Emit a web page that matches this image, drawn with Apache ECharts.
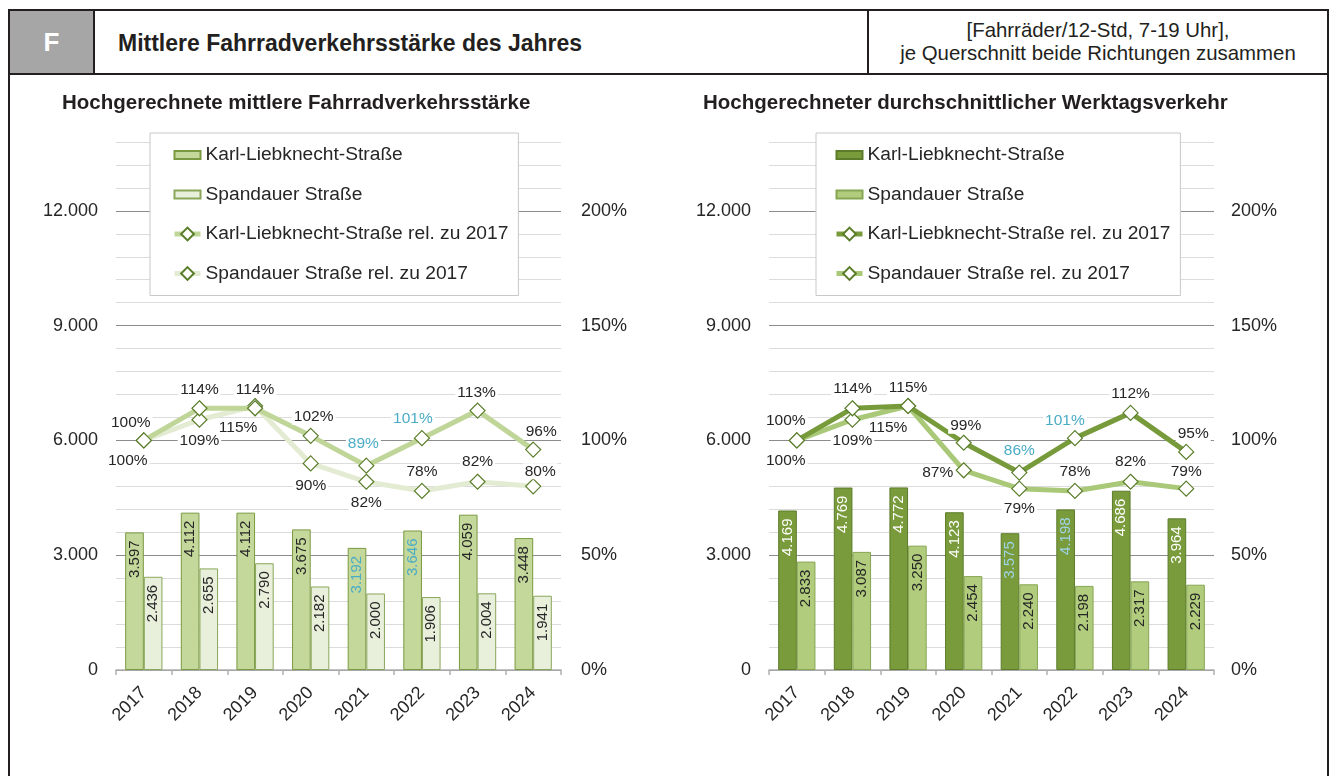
<!DOCTYPE html>
<html>
<head>
<meta charset="utf-8" />
<script src="https://cdn.jsdelivr.net/npm/echarts@6.0.0/dist/echarts.min.js"></script>
<style>
    body {
        margin: 0px;
        overflow: hidden;
        background: #fff;
        font-family: 'Liberation Sans', Arial, sans-serif;
    }
    .frame {
        position: absolute;
        left: 8px;
        top: 9px;
        width: 1317px;
        height: 800px;
        border: 2px solid #231f20;
    }
    .head {
        position: absolute;
        left: 0px;
        top: 0px;
        right: 0px;
        height: 62px;
        border-bottom: 2px solid #231f20;
    }
    .letter {
        position: absolute;
        left: 0px;
        top: 0px;
        width: 83px;
        height: 62px;
        background: #a6a6a6;
        border-right: 2px solid #231f20;
        color: #fff;
        font-weight: bold;
        font-size: 26px;
        line-height: 62px;
        text-align: center;
    }
    .title {
        position: absolute;
        left: 108px;
        top: 0px;
        line-height: 64px;
        font-weight: bold;
        font-size: 23px;
        color: #231f20;
    }
    .unit {
        position: absolute;
        left: 857px;
        top: 0px;
        right: 0px;
        height: 62px;
        border-left: 2px solid #231f20;
        text-align: center;
        font-size: 20.4px;
        line-height: 23px;
        padding-top: 8px;
        box-sizing: border-box;
        color: #231f20;
    }
    .chart {
        position: absolute;
        left: 0px;
        top: 0px;
        width: 1331px;
        height: 776px;
    }
</style>
</head>
<body>
    <div class="frame">
        <div class="head">
            <div class="letter">F</div>
            <div class="title">Mittlere Fahrradverkehrsstärke des Jahres</div>
            <div class="unit">[Fahrräder/12-Std, 7-19 Uhr],<br>je Querschnitt beide Richtungen zusammen</div>
        </div>
    </div>
    <div class="chart" id="chartLeft"></div>
    <div class="chart" id="chartRight"></div>

<script type="text/javascript">
    var years = ['2017', '2018', '2019', '2020', '2021', '2022', '2023', '2024'];

    // linke Grafik: mittlere Fahrradverkehrsstärke
    var leftKarl = [3597, 4112, 4112, 3675, 3192, 3646, 4059, 3448];
    var leftSpandau = [2436, 2655, 2790, 2182, 2000, 1906, 2004, 1941];
    var leftKarlRel = [100, 114, 114, 102, 89, 101, 113, 96];
    var leftSpandauRel = [100, 109, 115, 90, 82, 78, 82, 80];

    // rechte Grafik: durchschnittlicher Werktagsverkehr
    var rightKarl = [4169, 4769, 4772, 4123, 3575, 4198, 4686, 3964];
    var rightSpandau = [2833, 3087, 3250, 2454, 2240, 2198, 2317, 2229];
    var rightKarlRel = [100, 114, 115, 99, 86, 101, 112, 95];
    var rightSpandauRel = [100, 109, 115, 87, 79, 78, 82, 79];

    // Beschriftungsversatz der Prozentwerte [dx, dy] relativ zum Marker
    var leftKarlOff = [[-13, -18], [0, -19], [0, -19], [3, -19], [-3, -22], [-9, -19], [-1, -18], [8, -18]];
    var leftSpandauOff = [[-16, 20], [0, 21], [-17, 22], [0, 22], [0, 21], [0, -19], [0, -20], [7, -15]];
    var rightKarlOff = [[-11, -20], [0, -20], [0, -18], [2, -17], [0, -22], [-10, -17], [0, -19], [7, -18]];
    var rightSpandauOff = [[-11, 20], [0, 21], [-20, 22], [-26, 2], [0, 20], [0, -19], [0, -20], [0, -17]];

    var FONT = "'Liberation Sans', Arial, sans-serif";
    var TEXT = '#262626';
    var BLUE = '#4bacc6';
    var BAR_ICON = 'path://M0,0L26,0L26,8L0,8Z';

    function fmt(v) {
        return String(v).replace(/\B(?=(\d{3})+(?!\d))/g, '.');
    }

    function barData(values, blueIdx, color, blue) {
        return values.map(function (v, i) {
            return {
                value: v,
                label: { color: blueIdx.indexOf(i) >= 0 ? blue : color }
            };
        });
    }

    function lineData(values, offs, blueIdx) {
        return values.map(function (v, i) {
            return {
                value: v,
                label: {
                    offset: offs[i],
                    color: blueIdx.indexOf(i) >= 0 ? BLUE : TEXT
                }
            };
        });
    }

    function makeOption(c) {
        var barLabel = {
            show: true,
            position: 'insideTop',
            rotate: 90,
            align: 'right',
            verticalAlign: 'middle',
            distance: 8,
            fontSize: 15,
            fontFamily: FONT,
            formatter: function (p) { return fmt(p.value); }
        };
        var lineLabel = {
            show: true,
            position: 'inside',
            fontSize: 15.5,
            fontFamily: FONT,
            backgroundColor: '#fff',
            padding: [0, 2],
            formatter: function (p) { return p.value + '%'; }
        };
        var marker = {
            color: '#fff',
            borderColor: '#5a7d2a',
            borderWidth: 1.2
        };
        return {
            animation: false,
            title: {
                text: c.title,
                left: c.titleLeft,
                top: 93,
                padding: 0,
                textStyle: { fontSize: 20.5, fontWeight: 'bold', color: '#231f20', fontFamily: FONT }
            },
            legend: {
                orient: 'vertical',
                left: c.legendLeft,
                top: 133,
                padding: [11, 10, 11, c.legendPad],
                itemWidth: 26,
                itemHeight: 16,
                itemGap: 17.5,
                itemTextGap: 7,
                backgroundColor: '#fff',
                borderColor: '#c8c8c8',
                borderWidth: 1,
                textStyle: { fontSize: 19.2, color: TEXT, fontFamily: FONT, lineHeight: 22 },
                data: [
                    { name: 'Karl-Liebknecht-Straße', icon: BAR_ICON },
                    { name: 'Spandauer Straße', icon: BAR_ICON },
                    { name: 'Karl-Liebknecht-Straße rel. zu 2017', lineStyle: { width: 5 } },
                    { name: 'Spandauer Straße rel. zu 2017', lineStyle: { width: 5 } }
                ]
            },
            grid: {
                left: c.gridLeft,
                width: 445,
                top: 142,
                bottom: 106
            },
            xAxis: {
                type: 'category',
                data: years,
                boundaryGap: true,
                axisLine: { lineStyle: { color: '#b0b0b0', width: 1.5 } },
                axisTick: { show: true, length: 5, lineStyle: { color: '#b0b0b0', width: 1.5 } },
                axisLabel: { rotate: 45, fontSize: 18, color: TEXT, fontFamily: FONT, margin: 20 }
            },
            yAxis: [{
                type: 'value',
                min: 0,
                max: 13800,
                interval: 600,
                axisLine: { show: false },
                axisTick: { show: false },
                axisLabel: {
                    fontSize: 18, color: TEXT, fontFamily: FONT, margin: 18,
                    formatter: function (v) { return v % 3000 === 0 ? fmt(v) : ''; }
                },
                splitLine: {
                    lineStyle: { color: ['#8c8c8c', '#dcdcdc', '#dcdcdc', '#dcdcdc', '#dcdcdc'], width: 1 }
                }
            }, {
                type: 'value',
                min: 0,
                max: 230,
                interval: 10,
                axisLine: { show: false },
                axisTick: { show: false },
                splitLine: { show: false },
                axisLabel: {
                    fontSize: 18, color: TEXT, fontFamily: FONT, margin: c.rightMargin,
                    formatter: function (v) { return v % 50 === 0 ? v + '%' : ''; }
                }
            }],
            series: [{
                name: 'Karl-Liebknecht-Straße',
                type: 'bar',
                barGap: '0%',
                barCategoryGap: '33%',
                z: 2,
                itemStyle: { color: c.karlBar, borderColor: c.karlBorder, borderWidth: 1 },
                label: barLabel,
                data: barData(c.karl, c.blueIdx, c.karlLabel, c.karlBlue)
            }, {
                name: 'Spandauer Straße',
                type: 'bar',
                z: 2,
                itemStyle: { color: c.spBar, borderColor: c.spBorder, borderWidth: 1 },
                label: barLabel,
                data: barData(c.sp, [], TEXT, BLUE)
            }, {
                name: 'Karl-Liebknecht-Straße rel. zu 2017',
                type: 'line',
                yAxisIndex: 1,
                z: 5,
                symbol: 'diamond',
                symbolSize: 15,
                lineStyle: { color: c.karlLine, width: 5 },
                itemStyle: marker,
                label: lineLabel,
                data: lineData(c.karlRel, c.karlOff, c.blueIdx)
            }, {
                name: 'Spandauer Straße rel. zu 2017',
                type: 'line',
                yAxisIndex: 1,
                z: 4,
                symbol: 'diamond',
                symbolSize: 15,
                lineStyle: { color: c.spLine, width: 5 },
                itemStyle: marker,
                label: lineLabel,
                data: lineData(c.spRel, c.spOff, [])
            }]
        };
    }

    var left = echarts.init(document.getElementById('chartLeft'));
    left.setOption(makeOption({
        title: 'Hochgerechnete mittlere Fahrradverkehrsstärke',
        titleLeft: 62,
        legendLeft: 150,
        legendPad: 22,
        gridLeft: 116,
        rightMargin: 20,
        karl: leftKarl, sp: leftSpandau, karlRel: leftKarlRel, spRel: leftSpandauRel,
        karlOff: leftKarlOff, spOff: leftSpandauOff,
        blueIdx: [4, 5],
        karlBar: '#c4d89b', karlBorder: '#7a9a42', karlLabel: TEXT, karlBlue: BLUE,
        spBar: '#e8f0dc', spBorder: '#8aa65a',
        karlLine: '#c0d699', spLine: '#e3ecd3'
    }));

    var right = echarts.init(document.getElementById('chartRight'));
    right.setOption(makeOption({
        title: 'Hochgerechneter durchschnittlicher Werktagsverkehr',
        titleLeft: 703,
        legendLeft: 816,
        legendPad: 18,
        gridLeft: 769,
        rightMargin: 17,
        karl: rightKarl, sp: rightSpandau, karlRel: rightKarlRel, spRel: rightSpandauRel,
        karlOff: rightKarlOff, spOff: rightSpandauOff,
        blueIdx: [4, 5],
        karlBar: '#799b3b', karlBorder: '#5d7c2b', karlLabel: '#fff', karlBlue: '#9fd4e6',
        spBar: '#b0cc7c', spBorder: '#86a653',
        karlLine: '#779a3a', spLine: '#a9c878'
    }));
</script>
</body>
</html>
